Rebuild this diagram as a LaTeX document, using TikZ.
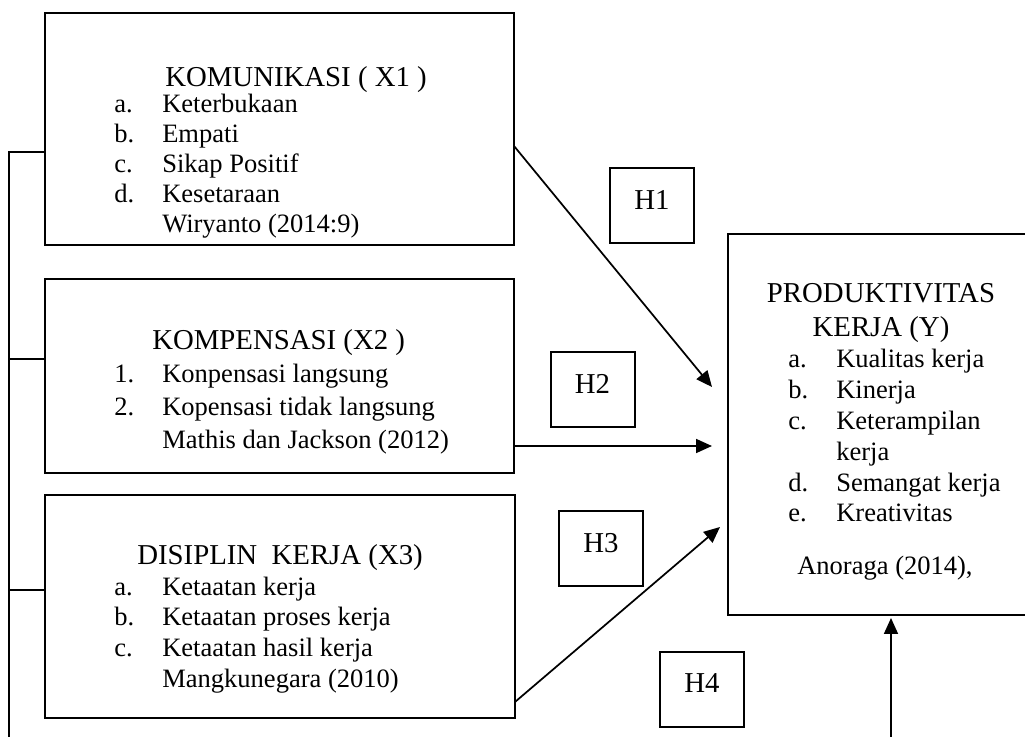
\documentclass[tikz,border=0pt]{standalone}
\usepackage{fontspec}
\setmainfont{Liberation Serif}
\usetikzlibrary{arrows.meta}
\newcommand\itemlist[2]{{\fontsize{19.9}{#1}\selectfont\begin{tabular}[t]{@{}p{36pt}@{}l@{}}#2\end{tabular}}}
\begin{document}
\begin{tikzpicture}[x=0.75pt,y=-0.75pt,
  box/.style={draw,line width=1.5pt,inner sep=0pt,outer sep=0pt},
  ttl/.style={inner sep=0pt,anchor=base west,font=\fontsize{21.6}{25.5}\selectfont},
  lst/.style={inner sep=0pt,anchor=base west},
  hbox/.style={box,minimum width=63pt,minimum height=56.25pt,text depth=9pt,font=\fontsize{21.6}{25.5}\selectfont},
  arr/.style={line width=1.3pt,-{Triangle[length=12pt,width=10.5pt]}},
  ln/.style={line width=1.5pt}]
\useasboundingbox (0,0) rectangle (1025,737);
\clip (0,0) rectangle (1025,737);
% boxes
\node[box,minimum width=351.75pt,minimum height=174pt] (x1) at (279.5,129) {};
\node[box,minimum width=351.75pt,minimum height=145.5pt] (x2) at (279.5,376) {};
\node[box,minimum width=352.5pt,minimum height=167.25pt] (x3) at (280,606.5) {};
\node[box,minimum width=244.5pt,minimum height=285.75pt] (y) at (891,424.5) {};
% texts
\node[ttl] (x1t) at (165,87) {KOMUNIKASI ( X1 )};
\node[lst] (x1l) at (114,113) {\itemlist{22.5pt}{a.&Keterbukaan\\b.&Empati\\c.&Sikap Positif\\d.&Kesetaraan\\&Wiryanto (2014:9)}};
\node[ttl] (x2t) at (152,350) {KOMPENSASI (X2 )};
\node[lst] (x2l) at (114,383) {\itemlist{24.4pt}{1.&Konpensasi langsung\\2.&Kopensasi tidak langsung\\&Mathis dan Jackson (2012)}};
\node[ttl] (x3t) at (137,565) {DISIPLIN\ \ KERJA (X3)};
\node[lst] (x3l) at (114,595) {\itemlist{23.25pt}{a.&Ketaatan kerja\\b.&Ketaatan proses kerja\\c.&Ketaatan hasil kerja\\&Mangkunegara (2010)}};
\node[inner sep=0pt,anchor=base,font=\fontsize{21.6}{25.5}\selectfont] (yt) at (881,303) {\begin{tabular}[t]{@{}c@{}}PRODUKTIVITAS\\KERJA (Y)\end{tabular}};
\node[lst] (yl) at (788,368) {\itemlist{23.1pt}{a.&Kualitas kerja\\b.&Kinerja\\c.&Keterampilan\\&kerja\\d.&Semangat kerja\\e.&Kreativitas}};
\node[lst,font=\fontsize{19.9}{23}\selectfont] (ya) at (797,575) {Anoraga (2014),};
% hypothesis labels
\node[hbox] (h1) at (652,205.5) {H1};
\node[hbox] (h2) at (592.5,389.5) {H2};
\node[hbox] (h3) at (601,549) {H3};
\node[hbox] (h4) at (702,689.5) {H4};
% bracket
\coordinate (b0) at (9,745);
\coordinate (b1) at (9,152);
\coordinate (b2) at (9,359);
\coordinate (b3) at (9,590);
\draw[ln] (b0) -- (b1) -- (x1.west |- b1);
\draw[ln] (b2) -- (x2.west |- b2);
\draw[ln] (b3) -- (x3.west |- b3);
% arrows
\coordinate (t1) at (712,387);
\coordinate (t2) at (712,446);
\coordinate (t3) at (720,527);
\coordinate (s4) at (891,745);
\draw[arr] ([yshift=-12.75pt]x1.east) -- (t1);
\draw[arr] ([yshift=-52.5pt]x2.east) -- (t2);
\draw[arr] ([yshift=-71.6pt]x3.east) -- (t3);
\draw[arr] (s4) -- ([yshift=-2.25pt]y.south);
\end{tikzpicture}
\end{document}
